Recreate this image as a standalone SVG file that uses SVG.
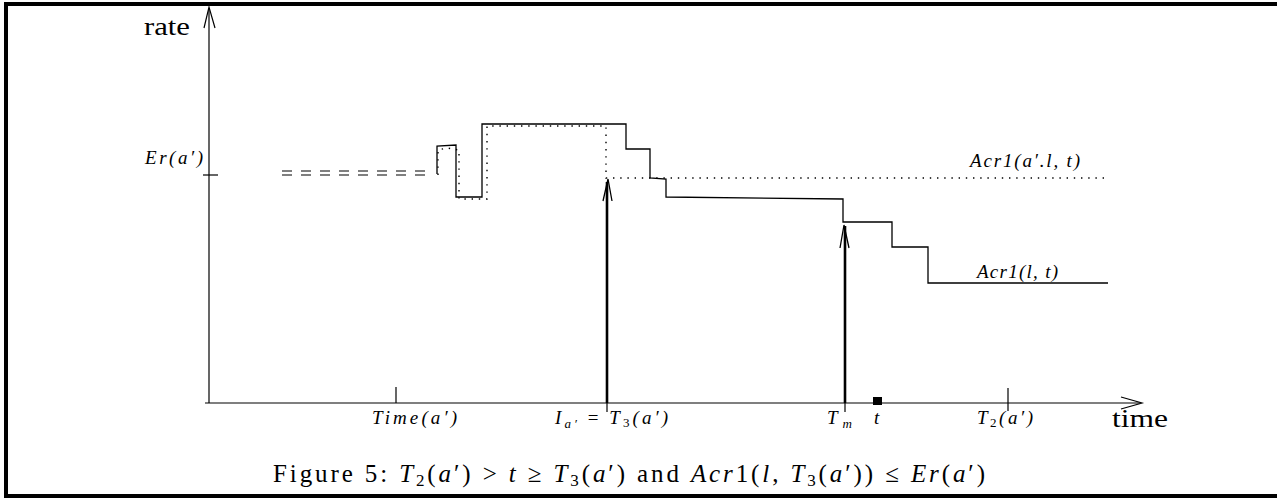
<svg xmlns="http://www.w3.org/2000/svg" width="1277" height="500" viewBox="0 0 1277 500">
<style>
.frame{fill:none;stroke:#000;stroke-width:4}
.axis{fill:none;stroke:#000;stroke-width:1.2}
.solid{fill:none;stroke:#000;stroke-width:1.3}
.dot{fill:none;stroke:#000;stroke-width:1.4;stroke-dasharray:1.4 5.8}
.dash{fill:none;stroke:#000;stroke-width:1.2;stroke-dasharray:10 9}
.arr{fill:none;stroke:#000;stroke-width:2.6}
.head{fill:none;stroke:#000;stroke-width:1.3}
.m{font-family:"Liberation Serif",serif;font-style:italic;font-size:19px;fill:#000}
.r{font-family:"Liberation Serif",serif;font-size:26px;fill:#000}
.cap{font-family:"Liberation Serif",serif;font-size:25px;fill:#000}
.it{font-style:italic}
</style>
<rect id="frame" class="frame" x="6" y="4" width="1275" height="492"/>
<g id="axes">
<line class="axis" x1="209" y1="8" x2="209" y2="403"/>
<polyline class="axis" points="204,28 209,7 215,28"/>
<line class="axis" x1="205" y1="403" x2="1141" y2="403"/>
<polyline class="axis" points="1121,397 1142,403 1121,409"/>
<line class="axis" x1="203" y1="175" x2="218" y2="175"/>
<line class="axis" x1="396" y1="387" x2="396" y2="403"/>
<line class="axis" x1="607" y1="403" x2="607" y2="412"/>
<line class="axis" x1="845" y1="403" x2="845" y2="412"/>
<line class="axis" x1="1008" y1="388" x2="1008" y2="411"/>
<rect x="873" y="397" width="9" height="8" fill="#000"/>
</g>
<g id="curves">
<line class="dash" x1="282" y1="171" x2="434" y2="171"/>
<line class="dash" x1="282" y1="175" x2="434" y2="175"/>
<polyline class="solid" points="437,174 437,146 456,145 456,197 482,197 482,124 626,124 626,149 650,149 650,178 666,179 666,197 843,199 843,222 892,222 892,247 928,247 928,283 1108,283"/>
<polyline class="dot" points="438,175 438,150 447,148 459,150 459,199 487,199 487,126 606,126 606,178 1105,178"/>
</g>
<g id="connectors">
<line class="arr" x1="607" y1="403" x2="607" y2="182"/>
<polyline class="head" points="603,201 608,179 612,201"/>
<line class="arr" x1="845" y1="403" x2="845" y2="226"/>
<polyline class="head" points="840,248 844,225 849,248"/>
</g>
<g id="labels">
<text class="r" x="144" y="35" textLength="46" lengthAdjust="spacingAndGlyphs">rate</text>
<text class="r" x="1112" y="427" textLength="56" lengthAdjust="spacingAndGlyphs">time</text>
<text class="m" x="145" y="164" textLength="58" lengthAdjust="spacing">Er(a′)</text>
<text class="m" x="372" y="424" textLength="85" lengthAdjust="spacing">Time(a′)</text>
<text class="m" x="555" y="424" textLength="113" lengthAdjust="spacing">I<tspan font-size="13" dy="4">a′</tspan><tspan dy="-4" font-style="normal"> = </tspan>T<tspan font-size="13" dy="3" font-style="normal">3</tspan><tspan dy="-3">(a′)</tspan></text>
<text class="m" x="827" y="424" textLength="25" lengthAdjust="spacing">T<tspan font-size="13" dy="4">m</tspan></text>
<text class="m" x="874" y="424">t</text>
<text class="m" x="977" y="424" textLength="56" lengthAdjust="spacing">T<tspan font-size="13" dy="3" font-style="normal">2</tspan><tspan dy="-3">(a′)</tspan></text>
<text class="m" x="970" y="167" textLength="110" lengthAdjust="spacing">Acr1(a′.l, t)</text>
<text class="m" x="977" y="278" textLength="81" lengthAdjust="spacing">Acr1(l, t)</text>
</g>
<g id="caption">
<text class="cap" x="273" y="482" textLength="712" lengthAdjust="spacing">Figure 5: <tspan class="it">T</tspan><tspan font-size="17" dy="4">2</tspan><tspan dy="-4">(</tspan><tspan class="it">a</tspan>′) &gt; <tspan class="it">t</tspan> ≥ <tspan class="it">T</tspan><tspan font-size="17" dy="4">3</tspan><tspan dy="-4">(</tspan><tspan class="it">a</tspan>′) and <tspan class="it">Acr</tspan>1(<tspan class="it">l</tspan>, <tspan class="it">T</tspan><tspan font-size="17" dy="4">3</tspan><tspan dy="-4">(</tspan><tspan class="it">a</tspan>′)) ≤ <tspan class="it">Er</tspan>(<tspan class="it">a</tspan>′)</text>
</g>
</svg>
